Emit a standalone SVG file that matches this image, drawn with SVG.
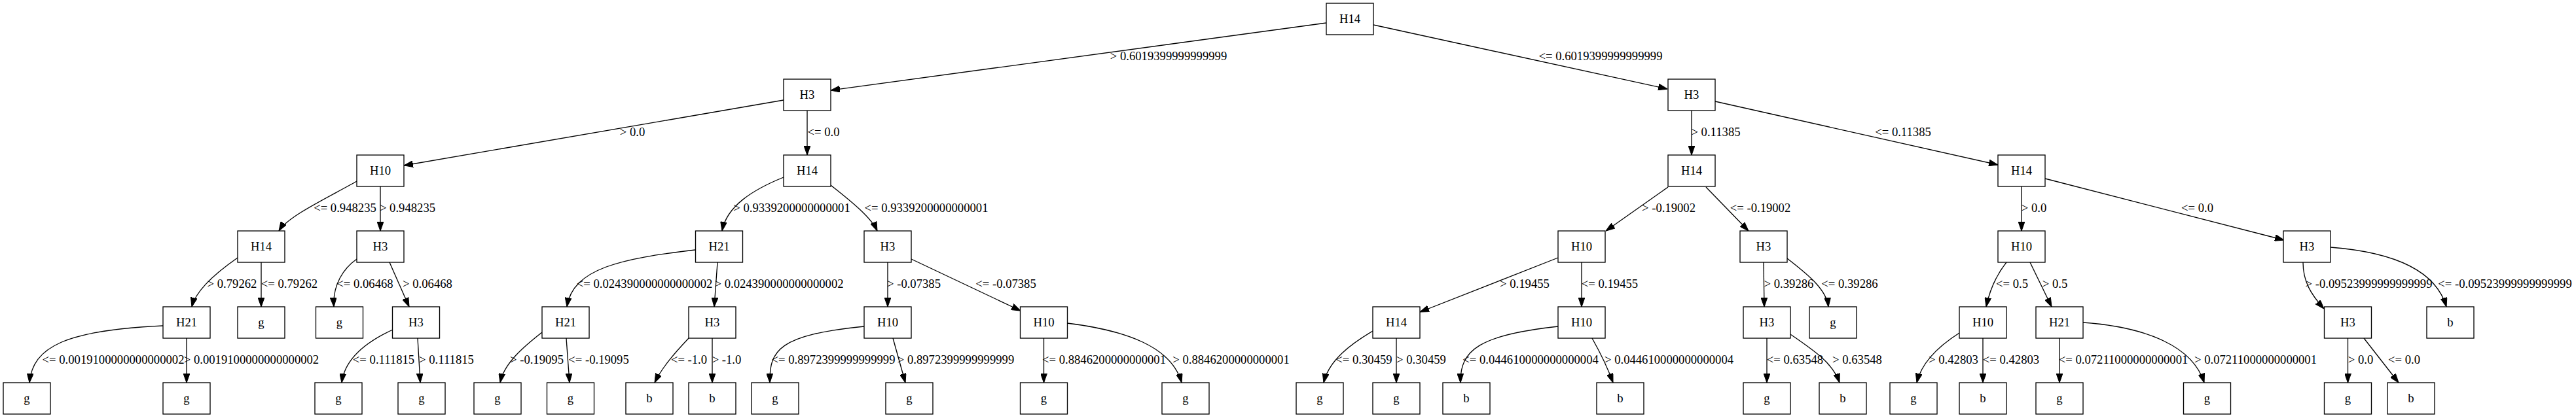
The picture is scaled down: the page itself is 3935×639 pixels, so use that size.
<svg xmlns="http://www.w3.org/2000/svg" width="3935" height="639" viewBox="0 0 3935 639">
<style>
.n rect{fill:#fff;stroke:#000;stroke-width:1.33}
text{font-family:"Liberation Serif","Times New Roman",serif;font-size:18.67px;fill:#000;text-anchor:middle}
.e path{fill:none;stroke:#000;stroke-width:1.33;marker-end:url(#arr)}
</style>
<defs>
<marker id="arr" markerUnits="userSpaceOnUse" markerWidth="14" markerHeight="10" refX="13.33" refY="4.67" orient="auto" viewBox="0 0 13.33 9.33">
<path d="M0,0 L13.33,4.67 L0,9.33 z" fill="#000" stroke="#000" stroke-width="1"/>
</marker>
</defs>
<rect width="3935" height="639" fill="#fff"/>
<g id="connectors" class="e">
<path d="M2026,35 L1269,138"/>
<path d="M2098,38 L2547,136"/>
<path d="M1197,153 L617,253"/>
<path d="M1233,169 L1233,237"/>
<path d="M2584,169 L2584,237"/>
<path d="M2620,155 L3052,252"/>
<path d="M545,277 C505,300 440,330 426,353"/>
<path d="M581,285 L581,353"/>
<path d="M1197,271 C1150,290 1110,315 1103,353"/>
<path d="M1269,283 C1290,300 1330,330 1340,353"/>
<path d="M2548,286 L2453,353"/>
<path d="M2606,286 L2671,353"/>
<path d="M3088,285 L3088,353"/>
<path d="M3124,273 L3489,367"/>
<path d="M363,394 C340,410 300,440 293,469"/>
<path d="M399,401 L399,469"/>
<path d="M545,396 C525,410 508,435 510,469"/>
<path d="M595,401 L625,469"/>
<path d="M1062,382 C950,395 875,410 866,469"/>
<path d="M1096,401 L1091,469"/>
<path d="M1356,401 L1356,469"/>
<path d="M1392,396 L1559,475"/>
<path d="M2380,394 L2169,477"/>
<path d="M2416,401 L2416,469"/>
<path d="M2694,401 L2695,469"/>
<path d="M2730,395 C2755,415 2790,440 2793,469"/>
<path d="M3065,401 C3050,420 3040,440 3034,469"/>
<path d="M3101,401 L3134,469"/>
<path d="M3518,401 C3518,430 3530,450 3550,472"/>
<path d="M3560,378 C3650,385 3720,410 3737,469"/>
<path d="M249,498 C100,505 50,530 45,585"/>
<path d="M285,517 L285,585"/>
<path d="M600,504 C565,520 527,545 522,585"/>
<path d="M638,517 L642,585"/>
<path d="M828,508 C800,530 770,555 764,585"/>
<path d="M865,517 L870,585"/>
<path d="M1052,517 C1035,535 1012,560 1000,585"/>
<path d="M1088,517 L1088,585"/>
<path d="M1320,499 C1190,512 1175,535 1176,585"/>
<path d="M1364,517 L1383,585"/>
<path d="M1594.5,517 L1594.5,585"/>
<path d="M1630,494 C1720,505 1790,530 1805,585"/>
<path d="M2097,506 C2065,525 2030,550 2022,585"/>
<path d="M2133,517 L2133,585"/>
<path d="M2380,499 C2260,512 2230,535 2231,585"/>
<path d="M2432,517 C2445,540 2455,560 2464,585"/>
<path d="M2699,517 L2699,585"/>
<path d="M2735,511 C2770,535 2800,555 2810,585"/>
<path d="M2993,509 C2960,530 2935,555 2928,585"/>
<path d="M3029,517 L3029,585"/>
<path d="M3146,517 L3146,585"/>
<path d="M3182,493 C3280,500 3350,530 3367,585"/>
<path d="M3586.5,517 L3586.5,585"/>
<path d="M3611,517 L3664,585"/>
</g>
<g id="edge-labels">
<text x="1785" y="92">&gt; 0.6019399999999999</text>
<text x="2445" y="92">&lt;= 0.6019399999999999</text>
<text x="966" y="208">&gt; 0.0</text>
<text x="1258" y="208">&lt;= 0.0</text>
<text x="2621" y="208">&gt; 0.11385</text>
<text x="2907" y="208">&lt;= 0.11385</text>
<text x="527" y="324">&lt;= 0.948235</text>
<text x="622.5" y="324">&gt; 0.948235</text>
<text x="1209.5" y="324">&gt; 0.9339200000000001</text>
<text x="1415" y="324">&lt;= 0.9339200000000001</text>
<text x="2549" y="324">&gt; -0.19002</text>
<text x="2689" y="324">&lt;= -0.19002</text>
<text x="3107" y="324">&gt; 0.0</text>
<text x="3356.5" y="324">&lt;= 0.0</text>
<text x="354.5" y="440">&gt; 0.79262</text>
<text x="442" y="440">&lt;= 0.79262</text>
<text x="557.5" y="440">&lt;= 0.06468</text>
<text x="653" y="440">&gt; 0.06468</text>
<text x="984.5" y="440">&lt;= 0.024390000000000002</text>
<text x="1190" y="440">&gt; 0.024390000000000002</text>
<text x="1396" y="440">&gt; -0.07385</text>
<text x="1536.5" y="440">&lt;= -0.07385</text>
<text x="2329" y="440">&gt; 0.19455</text>
<text x="2459" y="440">&lt;= 0.19455</text>
<text x="2732.5" y="440">&gt; 0.39286</text>
<text x="2825.5" y="440">&lt;= 0.39286</text>
<text x="3073.5" y="440">&lt;= 0.5</text>
<text x="3139" y="440">&gt; 0.5</text>
<text x="3618.5" y="440">&gt; -0.09523999999999999</text>
<text x="3826.5" y="440">&lt;= -0.09523999999999999</text>
<text x="173" y="556">&lt;= 0.0019100000000000002</text>
<text x="384" y="556">&gt; 0.0019100000000000002</text>
<text x="586" y="556">&lt;= 0.111815</text>
<text x="682" y="556">&gt; 0.111815</text>
<text x="820" y="556">&gt; -0.19095</text>
<text x="914.5" y="556">&lt;= -0.19095</text>
<text x="1052.5" y="556">&lt;= -1.0</text>
<text x="1110" y="556">&gt; -1.0</text>
<text x="1273" y="556">&lt;= 0.8972399999999999</text>
<text x="1460" y="556">&gt; 0.8972399999999999</text>
<text x="1686.5" y="556">&lt;= 0.8846200000000001</text>
<text x="1880.5" y="556">&gt; 0.8846200000000001</text>
<text x="2083.5" y="556">&lt;= 0.30459</text>
<text x="2171" y="556">&gt; 0.30459</text>
<text x="2338" y="556">&lt;= 0.044610000000000004</text>
<text x="2549.5" y="556">&gt; 0.044610000000000004</text>
<text x="2742" y="556">&lt;= 0.63548</text>
<text x="2837" y="556">&gt; 0.63548</text>
<text x="2984" y="556">&gt; 0.42803</text>
<text x="3072" y="556">&lt;= 0.42803</text>
<text x="3243.5" y="556">&lt;= 0.07211000000000001</text>
<text x="3445.5" y="556">&gt; 0.07211000000000001</text>
<text x="3606" y="556">&gt; 0.0</text>
<text x="3672.5" y="556">&lt;= 0.0</text>
</g>
<g id="n0" class="n"><rect x="2026" y="5" width="72" height="48"/><text x="2062" y="35">H14</text></g>
<g id="n1" class="n"><rect x="1197" y="121" width="72" height="48"/><text x="1233" y="151">H3</text></g>
<g id="n2" class="n"><rect x="2548" y="121" width="72" height="48"/><text x="2584" y="151">H3</text></g>
<g id="n3" class="n"><rect x="545" y="237" width="72" height="48"/><text x="581" y="267">H10</text></g>
<g id="n4" class="n"><rect x="1197" y="237" width="72" height="48"/><text x="1233" y="267">H14</text></g>
<g id="n5" class="n"><rect x="2548" y="237" width="72" height="48"/><text x="2584" y="267">H14</text></g>
<g id="n6" class="n"><rect x="3052" y="237" width="72" height="48"/><text x="3088" y="267">H14</text></g>
<g id="n7" class="n"><rect x="363" y="353" width="72" height="48"/><text x="399" y="383">H14</text></g>
<g id="n8" class="n"><rect x="545" y="353" width="72" height="48"/><text x="581" y="383">H3</text></g>
<g id="n9" class="n"><rect x="1062.5" y="353" width="72" height="48"/><text x="1098.5" y="383">H21</text></g>
<g id="n10" class="n"><rect x="1320" y="353" width="72" height="48"/><text x="1356" y="383">H3</text></g>
<g id="n11" class="n"><rect x="2380" y="353" width="72" height="48"/><text x="2416" y="383">H10</text></g>
<g id="n12" class="n"><rect x="2658" y="353" width="72" height="48"/><text x="2694" y="383">H3</text></g>
<g id="n13" class="n"><rect x="3052" y="353" width="72" height="48"/><text x="3088" y="383">H10</text></g>
<g id="n14" class="n"><rect x="3488" y="353" width="72" height="48"/><text x="3524" y="383">H3</text></g>
<g id="n15" class="n"><rect x="249" y="469" width="72" height="48"/><text x="285" y="499">H21</text></g>
<g id="n16" class="n"><rect x="363" y="469" width="72" height="48"/><text x="399" y="499">g</text></g>
<g id="n17" class="n"><rect x="482.5" y="469" width="72" height="48"/><text x="518.5" y="499">g</text></g>
<g id="n18" class="n"><rect x="599.5" y="469" width="72" height="48"/><text x="635.5" y="499">H3</text></g>
<g id="n19" class="n"><rect x="828" y="469" width="72" height="48"/><text x="864" y="499">H21</text></g>
<g id="n20" class="n"><rect x="1052" y="469" width="72" height="48"/><text x="1088" y="499">H3</text></g>
<g id="n21" class="n"><rect x="1320" y="469" width="72" height="48"/><text x="1356" y="499">H10</text></g>
<g id="n22" class="n"><rect x="1558.5" y="469" width="72" height="48"/><text x="1594.5" y="499">H10</text></g>
<g id="n23" class="n"><rect x="2097" y="469" width="72" height="48"/><text x="2133" y="499">H14</text></g>
<g id="n24" class="n"><rect x="2380" y="469" width="72" height="48"/><text x="2416" y="499">H10</text></g>
<g id="n25" class="n"><rect x="2663" y="469" width="72" height="48"/><text x="2699" y="499">H3</text></g>
<g id="n26" class="n"><rect x="2764" y="469" width="72" height="48"/><text x="2800" y="499">g</text></g>
<g id="n27" class="n"><rect x="2993" y="469" width="72" height="48"/><text x="3029" y="499">H10</text></g>
<g id="n28" class="n"><rect x="3110" y="469" width="72" height="48"/><text x="3146" y="499">H21</text></g>
<g id="n29" class="n"><rect x="3550.5" y="469" width="72" height="48"/><text x="3586.5" y="499">H3</text></g>
<g id="n30" class="n"><rect x="3707" y="469" width="72" height="48"/><text x="3743" y="499">b</text></g>
<g id="n31" class="n"><rect x="5" y="585" width="72" height="48"/><text x="41" y="615">g</text></g>
<g id="n32" class="n"><rect x="249" y="585" width="72" height="48"/><text x="285" y="615">g</text></g>
<g id="n33" class="n"><rect x="481" y="585" width="72" height="48"/><text x="517" y="615">g</text></g>
<g id="n34" class="n"><rect x="608" y="585" width="72" height="48"/><text x="644" y="615">g</text></g>
<g id="n35" class="n"><rect x="724" y="585" width="72" height="48"/><text x="760" y="615">g</text></g>
<g id="n36" class="n"><rect x="835.5" y="585" width="72" height="48"/><text x="871.5" y="615">g</text></g>
<g id="n37" class="n"><rect x="956" y="585" width="72" height="48"/><text x="992" y="615">b</text></g>
<g id="n38" class="n"><rect x="1052" y="585" width="72" height="48"/><text x="1088" y="615">b</text></g>
<g id="n39" class="n"><rect x="1148" y="585" width="72" height="48"/><text x="1184" y="615">g</text></g>
<g id="n40" class="n"><rect x="1353" y="585" width="72" height="48"/><text x="1389" y="615">g</text></g>
<g id="n41" class="n"><rect x="1558.5" y="585" width="72" height="48"/><text x="1594.5" y="615">g</text></g>
<g id="n42" class="n"><rect x="1775" y="585" width="72" height="48"/><text x="1811" y="615">g</text></g>
<g id="n43" class="n"><rect x="1980" y="585" width="72" height="48"/><text x="2016" y="615">g</text></g>
<g id="n44" class="n"><rect x="2097" y="585" width="72" height="48"/><text x="2133" y="615">g</text></g>
<g id="n45" class="n"><rect x="2204" y="585" width="72" height="48"/><text x="2240" y="615">b</text></g>
<g id="n46" class="n"><rect x="2439" y="585" width="72" height="48"/><text x="2475" y="615">b</text></g>
<g id="n47" class="n"><rect x="2663" y="585" width="72" height="48"/><text x="2699" y="615">g</text></g>
<g id="n48" class="n"><rect x="2779" y="585" width="72" height="48"/><text x="2815" y="615">b</text></g>
<g id="n49" class="n"><rect x="2887" y="585" width="72" height="48"/><text x="2923" y="615">g</text></g>
<g id="n50" class="n"><rect x="2993" y="585" width="72" height="48"/><text x="3029" y="615">b</text></g>
<g id="n51" class="n"><rect x="3110" y="585" width="72" height="48"/><text x="3146" y="615">g</text></g>
<g id="n52" class="n"><rect x="3335.5" y="585" width="72" height="48"/><text x="3371.5" y="615">g</text></g>
<g id="n53" class="n"><rect x="3550.5" y="585" width="72" height="48"/><text x="3586.5" y="615">g</text></g>
<g id="n54" class="n"><rect x="3647" y="585" width="72" height="48"/><text x="3683" y="615">b</text></g>
</svg>
